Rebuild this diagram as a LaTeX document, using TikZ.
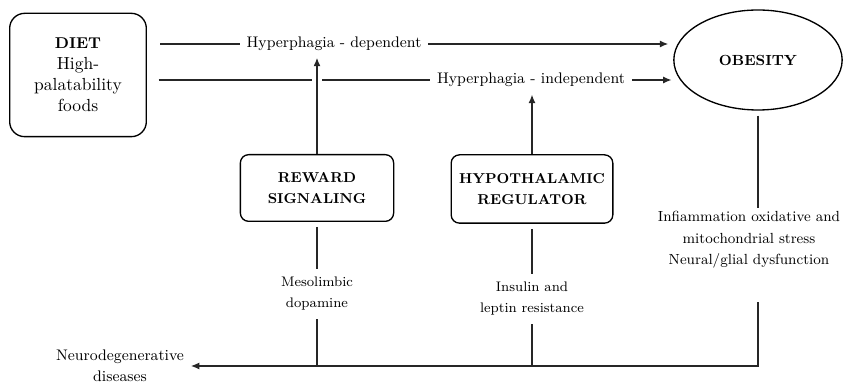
\documentclass[tikz,border=0pt]{standalone}
\usetikzlibrary{shapes.geometric, arrows.meta, positioning, calc}

\begin{document}
\begin{tikzpicture}[
    x=0.6pt, y=-0.6pt,
    >={Latex[length=5pt,width=4.2pt]},
    font=\fontsize{9.2}{12.8}\selectfont,
    base/.style={align=center, inner sep=2pt},
    source/.style={base, draw, rectangle, rounded corners=9pt, line width=0.8pt, font=\fontsize{10.5}{12.6}\selectfont},
    factor/.style={base, draw, rectangle, rounded corners=5pt, line width=0.8pt, font=\fontsize{8.6}{12.5}\selectfont\bfseries},
    outcome/.style={base, draw, ellipse, line width=0.8pt, minimum width=101pt, minimum height=60pt, font=\fontsize{8.8}{10}\selectfont\bfseries},
    route/.style={base, inner xsep=4pt},
    mech/.style={base, font=\fontsize{8.3}{12.6}\selectfont, inner sep=5pt},
    link/.style={line width=0.7pt, black!85},
    arrow/.style={link, ->}
  ]
    \useasboundingbox (0,0) rectangle (843,383);
    \node[source, minimum width=82pt, minimum height=74pt] (diet) at (78,75)
    {{\fontsize{9.4}{10}\selectfont\bfseries DIET}\\High-\\palatability\\foods};
    \node[outcome] (obesity) at (758,60) {OBESITY};
    \node[factor, minimum width=92pt, minimum height=40pt] (reward) at (317,188) {REWARD\\SIGNALING};
    \node[factor, minimum width=97pt, minimum height=41pt] (hypo) at (532,189) {HYPOTHALAMIC\\REGULATOR};
    \node[route] (dep) at (334,44) {Hyperphagia - dependent};
    \node[route] (indep) at (531,80) {Hyperphagia - independent};
    \node[route, font=\fontsize{8.8}{13}\selectfont] (stress) at (749,240)
    {Infiammation oxidative and\\mitochondrial stress\\Neural/glial dysfunction};
    \node[mech] (dopa) at (317,294) {Mesolimbic\\dopamine};
    \node[mech] (insulin) at (532,299) {Insulin and\\leptin resistance};
    \node[route] (neuro) at (120,366) {Neurodegenerative\\diseases};
    \draw[link] ([xshift=8pt]diet.east |- dep.west) -- (dep.west);
    \draw[arrow] (dep.east) -- ([xshift=-3pt]obesity.west |- dep.east);
    \draw[link, shorten >=3pt] ([xshift=7pt]diet.east |- indep.west) -- (reward.north |- indep.west);
    \draw[link, shorten <=3pt] (reward.north |- indep.west) -- (indep.west);
    \draw[arrow] (indep.east) -- ([xshift=-1pt]obesity.west |- indep.east);
    \draw[arrow, shorten >=2pt] (reward.north) -- (reward.north |- dep.south);
    \draw[arrow, shorten >=2.5pt] (hypo.north) -- (hypo.north |- indep.south);
    \draw[link, shorten <=3pt] (obesity.south) -- (obesity.south |- stress.north);
    \draw[arrow, shorten <=18pt] (obesity.south |- stress.south) |- (neuro.east);
    \draw[link, shorten <=3pt] (reward.south) -- (dopa.north);
    \draw[link] (dopa.south) -- (dopa.south |- neuro.east);
    \draw[link, shorten <=3pt] (hypo.south) -- (insulin.north);
    \draw[link] (insulin.south) -- (insulin.south |- neuro.east);
  \end{tikzpicture}
\end{document}
